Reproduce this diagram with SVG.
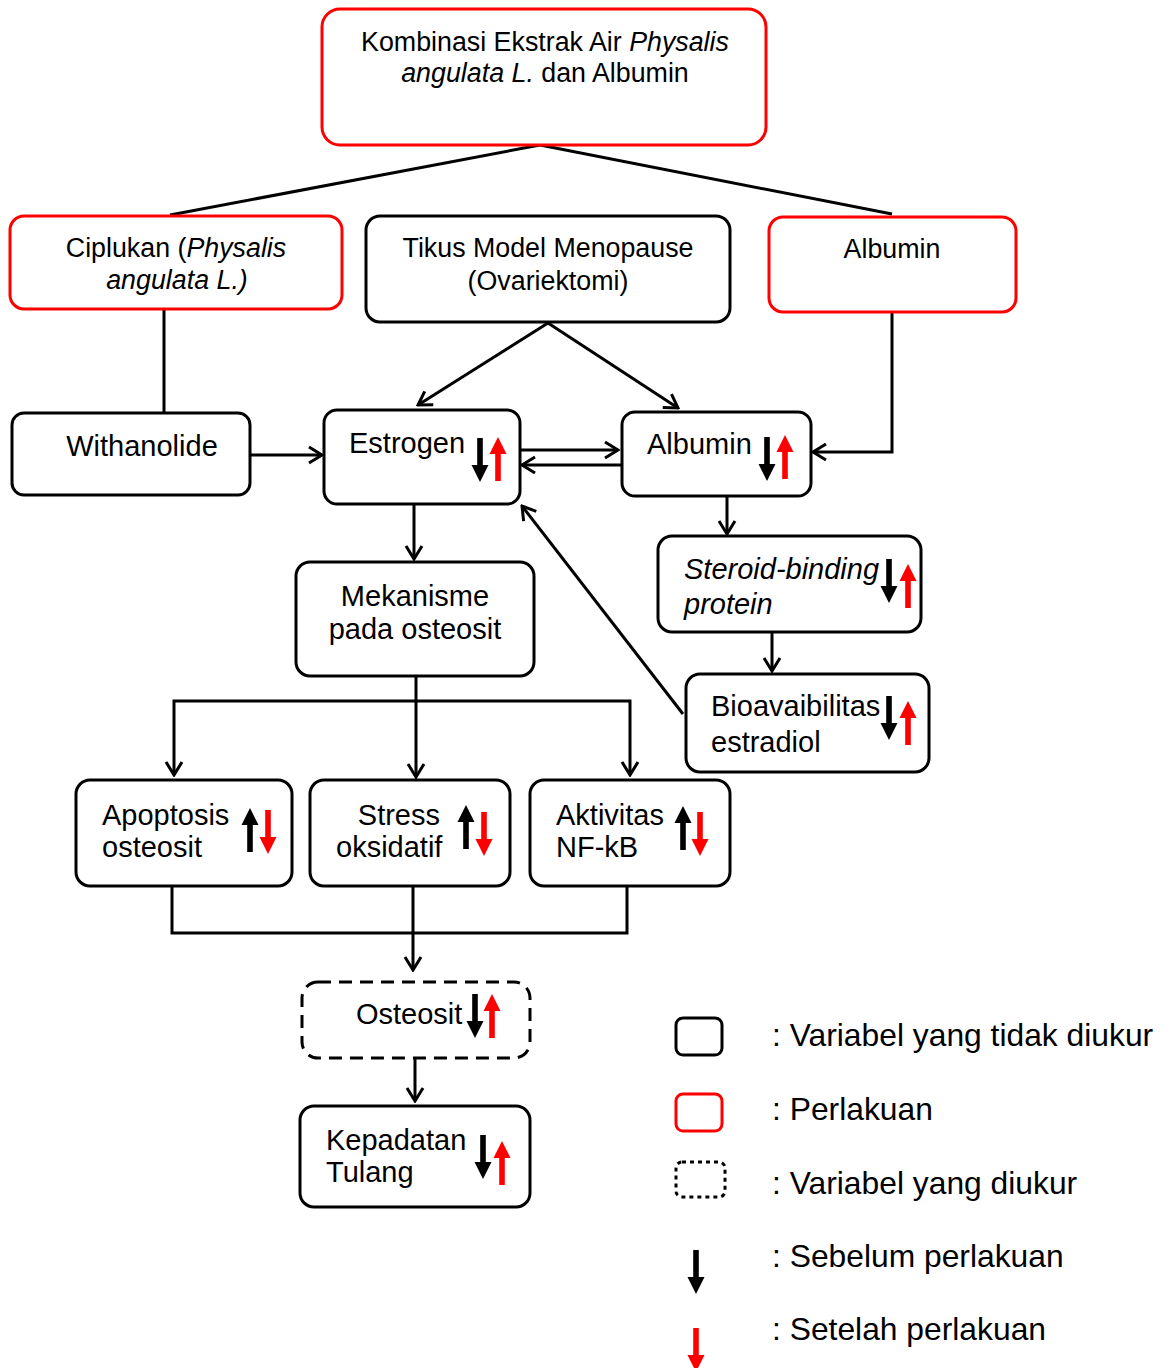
<svg xmlns="http://www.w3.org/2000/svg" xmlns:xlink="http://www.w3.org/1999/xlink" width="1171" height="1368" viewBox="0 0 1171 1368">
<style>
text{font-family:"Liberation Sans",Arial,sans-serif;fill:#000}
.t1{font-size:26.8px}
.t2{font-size:29px}
.lg{font-size:31.8px}
.i{font-style:italic}
.bk{fill:#fff;stroke:#000;stroke-width:3}
.rd{fill:#fff;stroke:#f00;stroke-width:3}
.ds{fill:#fff;stroke:#000;stroke-width:3;stroke-dasharray:13 8}
.dt{fill:#fff;stroke:#000;stroke-width:3;stroke-dasharray:4 4}
.c{fill:none;stroke:#000;stroke-width:3}
.ca{fill:none;stroke:#000;stroke-width:3;marker-end:url(#a)}
.ab{fill:#000}
.ar{fill:#f00}
</style>
<defs>
<marker id="a" viewBox="0 0 20 20" refX="18" refY="10" markerWidth="20" markerHeight="20" orient="auto" markerUnits="userSpaceOnUse">
<path d="M5,2 L18,10 L5,18" fill="none" stroke="#000" stroke-width="3"/>
</marker>
<path id="dn" d="M-2.8,0 H2.8 V27 H8.5 L0,44 L-8.5,27 H-2.8 Z"/>
<path id="up" d="M-2.8,44 H2.8 V17 H8.5 L0,0 L-8.5,17 H-2.8 Z"/>
</defs>

<g id="connectors">
<path class="c" d="M540,145 L170,215"/>
<path class="c" d="M540,145 L892,214"/>
<path class="c" d="M164,309 V413"/>
<path class="ca" d="M250,455 H322"/>
<path class="ca" d="M548,323 L418,405"/>
<path class="ca" d="M548,323 L678,408"/>
<path class="ca" d="M520,450 H618"/>
<path class="ca" d="M622,465 H522"/>
<path class="ca" d="M892,312 V452 H813"/>
<path class="ca" d="M727,496 V534"/>
<path class="ca" d="M772,632 V671"/>
<path class="ca" d="M683,714 L522,506"/>
<path class="ca" d="M414,504 V559"/>
<path class="ca" d="M416,676 V777"/>
<path class="ca" d="M416,701 H174 V775"/>
<path class="ca" d="M416,701 H630 V775"/>
<path class="c" d="M172,886 V933 H627 V886"/>
<path class="ca" d="M413,886 V970"/>
<path class="ca" d="M415,1058 V1101"/>
</g>

<g id="kombinasi">
<rect class="rd" x="322" y="9" width="444" height="136" rx="18"/>
<text class="t1" x="545" y="51" text-anchor="middle">Kombinasi Ekstrak Air <tspan class="i">Physalis</tspan></text>
<text class="t1" x="545" y="82" text-anchor="middle"><tspan class="i">angulata L.</tspan> dan Albumin</text>
</g>

<g id="ciplukan">
<rect class="rd" x="10" y="216" width="332" height="93" rx="14"/>
<text class="t1" x="176" y="257" text-anchor="middle">Ciplukan (<tspan class="i">Physalis</tspan></text>
<text class="t1 i" x="177" y="289" text-anchor="middle">angulata L.)</text>
</g>

<g id="tikus">
<rect class="bk" x="366" y="216" width="364" height="106" rx="14"/>
<text class="t1" x="548" y="257" text-anchor="middle">Tikus Model Menopause</text>
<text class="t1" x="548" y="290" text-anchor="middle">(Ovariektomi)</text>
</g>

<g id="albumin-top">
<rect class="rd" x="769" y="217" width="247" height="95" rx="14"/>
<text class="t1" x="892" y="258" text-anchor="middle">Albumin</text>
</g>

<g id="withanolide">
<rect class="bk" x="12" y="413" width="238" height="82" rx="12"/>
<text class="t2" x="142" y="456" text-anchor="middle">Withanolide</text>
</g>

<g id="estrogen">
<rect class="bk" x="324" y="410" width="196" height="94" rx="13"/>
<text class="t2" x="349" y="453">Estrogen</text>
<use href="#dn" class="ab" x="480" y="438"/>
<use href="#up" class="ar" x="498" y="437"/>
</g>

<g id="albumin">
<rect class="bk" x="622" y="412" width="189" height="84" rx="13"/>
<text class="t2" x="647" y="454">Albumin</text>
<use href="#dn" class="ab" x="767" y="437"/>
<use href="#up" class="ar" x="785" y="435"/>
</g>

<g id="steroid">
<rect class="bk" x="658" y="536" width="263" height="96" rx="14"/>
<text class="t2 i" x="684" y="579">Steroid-binding</text>
<text class="t2 i" x="684" y="614">protein</text>
<use href="#dn" class="ab" x="889" y="559"/>
<use href="#up" class="ar" x="908" y="564"/>
</g>

<g id="bioavaibilitas">
<rect class="bk" x="686" y="674" width="243" height="98" rx="14"/>
<text class="t2" x="711" y="716">Bioavaibilitas</text>
<text class="t2" x="711" y="752">estradiol</text>
<use href="#dn" class="ab" x="889" y="696"/>
<use href="#up" class="ar" x="908" y="701"/>
</g>

<g id="mekanisme">
<rect class="bk" x="296" y="562" width="238" height="114" rx="14"/>
<text class="t2" x="415" y="606" text-anchor="middle">Mekanisme</text>
<text class="t2" x="415" y="639" text-anchor="middle">pada osteosit</text>
</g>

<g id="apoptosis">
<rect class="bk" x="76" y="780" width="216" height="106" rx="14"/>
<text class="t2" x="102" y="825">Apoptosis</text>
<text class="t2" x="102" y="857">osteosit</text>
<use href="#up" class="ab" x="250" y="808"/>
<use href="#dn" class="ar" x="268" y="810"/>
</g>

<g id="stress">
<rect class="bk" x="310" y="780" width="200" height="106" rx="14"/>
<text class="t2" x="440" y="825" text-anchor="end">Stress</text>
<text class="t2" x="336" y="857">oksidatif</text>
<use href="#up" class="ab" x="466" y="805"/>
<use href="#dn" class="ar" x="484" y="812"/>
</g>

<g id="aktivitas">
<rect class="bk" x="530" y="780" width="200" height="106" rx="14"/>
<text class="t2" x="556" y="825">Aktivitas</text>
<text class="t2" x="556" y="857">NF-kB</text>
<use href="#up" class="ab" x="683" y="806"/>
<use href="#dn" class="ar" x="700" y="812"/>
</g>

<g id="osteosit">
<rect class="ds" x="302" y="982" width="228" height="76" rx="16"/>
<text class="t2" x="356" y="1024">Osteosit</text>
<use href="#dn" class="ab" x="475" y="994"/>
<use href="#up" class="ar" x="492" y="994"/>
</g>

<g id="kepadatan">
<rect class="bk" x="300" y="1106" width="230" height="101" rx="14"/>
<text class="t2" x="326" y="1150">Kepadatan</text>
<text class="t2" x="326" y="1182">Tulang</text>
<use href="#dn" class="ab" x="483" y="1135"/>
<use href="#up" class="ar" x="502" y="1141"/>
</g>

<g id="legend">
<rect class="bk" x="676" y="1018" width="46" height="37" rx="7"/>
<text class="lg" x="772" y="1046">: Variabel yang tidak diukur</text>
<rect class="rd" x="676" y="1094" width="46" height="37" rx="7"/>
<text class="lg" x="772" y="1120">: Perlakuan</text>
<rect class="dt" x="676" y="1162" width="49" height="35" rx="6"/>
<text class="lg" x="772" y="1194">: Variabel yang diukur</text>
<use href="#dn" class="ab" x="696" y="1250"/>
<text class="lg" x="772" y="1267">: Sebelum perlakuan</text>
<use href="#dn" class="ar" x="696" y="1328"/>
<text class="lg" x="772" y="1340">: Setelah perlakuan</text>
</g>
</svg>
